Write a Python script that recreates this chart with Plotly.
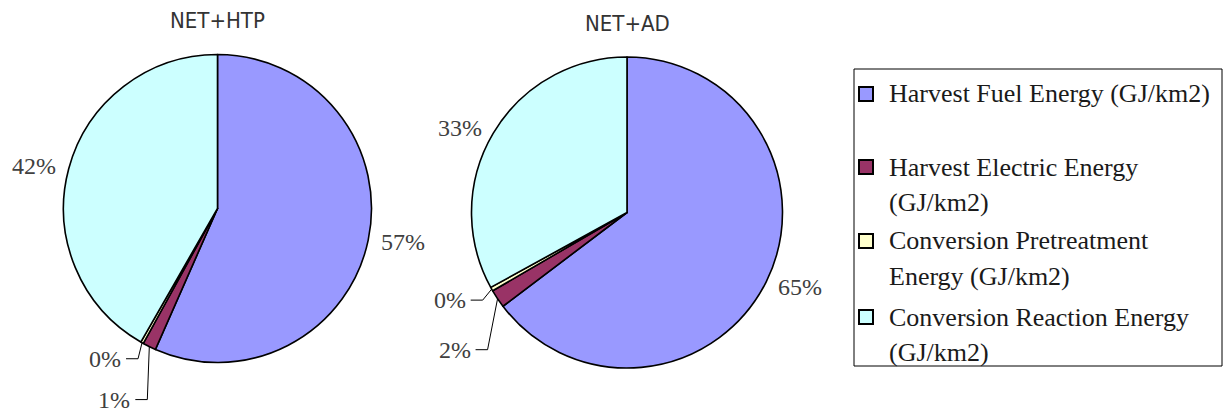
import math
import plotly.graph_objects as go

# ---- data -------------------------------------------------------------
categories = [
    "Harvest Fuel Energy (GJ/km2)",
    "Harvest Electric Energy (GJ/km2)",
    "Conversion Pretreatment Energy (GJ/km2)",
    "Conversion Reaction Energy (GJ/km2)",
]
legend_text = [
    "Harvest Fuel Energy (GJ/km2)",
    "Harvest Electric Energy<br>(GJ/km2)",
    "Conversion Pretreatment<br>Energy (GJ/km2)",
    "Conversion Reaction Energy<br>(GJ/km2)",
]
chart_titles = ["NET+HTP", "NET+AD"]
htp_share = [56.6, 1.4, 0.3, 41.7]
ad_share = [64.7, 1.9, 0.4, 33.0]
slice_colors = ["#9999FF", "#993366", "#FFFFCC", "#CCFFFF"]

# ---- layout -----------------------------------------------------------
W, H = 1224, 418
PIES = [dict(cx=217.5, cy=208.5, r=154), dict(cx=627, cy=212.5, r=155.5)]
# thin slices get an elbow leader line; offset (px) from slice rim to the text's right edge
LEADERS = [{2: (-19, 16), 1: (-17, 53)}, {2: (-24, 11), 1: (-25, 51)}]
LEGEND_BOX = (854, 69, 1222, 366)
LEGEND_ROWS = [94, 167, 241, 317]
LEGEND_LINE_GAP = 35
SERIF = "Liberation Serif"
TITLE_FONT = "DejaVu Sans Condensed, DejaVu Sans"


def paper(x, y):
    return x / W, 1 - y / H


def rim_point(p, frac, k=1.0):
    a = 2 * math.pi * frac
    return p["cx"] + k * p["r"] * math.sin(a), p["cy"] - k * p["r"] * math.cos(a)


fig = go.Figure()
annotations = []
shapes = []

for idx, (values, title) in enumerate(zip([htp_share, ad_share], chart_titles)):
    p = PIES[idx]
    x0, y1 = paper(p["cx"] - p["r"], p["cy"] - p["r"])
    x1, y0 = paper(p["cx"] + p["r"], p["cy"] + p["r"])
    fig.add_trace(go.Pie(
        labels=categories,
        values=values,
        sort=False,
        direction="clockwise",
        rotation=0,
        textinfo="none",
        hoverinfo="label+percent",
        marker=dict(colors=slice_colors, line=dict(color="#000000", width=1.6)),
        domain=dict(x=[x0, x1], y=[y0, y1]),
        showlegend=False,
        name=title,
    ))

    # chart title
    tx, ty = paper(p["cx"], p["cy"] - p["r"] - 34)
    annotations.append(dict(
        x=tx, y=ty, xref="paper", yref="paper", text=title, showarrow=False,
        xanchor="center", yanchor="middle",
        font=dict(family=TITLE_FONT, size=22, color="#333333"),
    ))

    total = sum(values)
    start = 0.0
    for i, v in enumerate(values):
        frac = v / total
        mid = start + frac / 2
        start += frac
        label = f"{round(frac * 100):.0f}%"
        if i in LEADERS[idx]:
            rx, ry = rim_point(p, mid)
            dx, dy = LEADERS[idx][i]
            lx, ly = rx + dx, ry + dy
            ex = lx + 15
            a = paper(rx, ry)
            b = paper(ex, ly)
            c = paper(lx + 3, ly)
            shapes.append(dict(
                type="path", xref="paper", yref="paper",
                path=f"M {a[0]},{a[1]} L {b[0]},{b[1]} L {c[0]},{c[1]}",
                line=dict(color="#000000", width=1),
            ))
            ax_, ay_ = paper(lx, ly)
            anchor = "right"
        else:
            sx, sy = rim_point(p, mid, 1.07)
            ax_, ay_ = paper(sx, sy)
            anchor = "left" if sx > p["cx"] else "right"
        annotations.append(dict(
            x=ax_, y=ay_, xref="paper", yref="paper", text=label, showarrow=False,
            xanchor=anchor, yanchor="middle",
            font=dict(family=SERIF, size=24, color="#404040"),
        ))

# legend box
bx0, by0 = paper(LEGEND_BOX[0], LEGEND_BOX[1])
bx1, by1 = paper(LEGEND_BOX[2], LEGEND_BOX[3])
shapes.append(dict(type="rect", xref="paper", yref="paper",
                   x0=bx0, x1=bx1, y0=by1, y1=by0,
                   line=dict(color="#000000", width=1), fillcolor="rgba(0,0,0,0)"))
for row_y, text, color in zip(LEGEND_ROWS, legend_text, slice_colors):
    sx0, sy0 = paper(859, row_y - 7)
    sx1, sy1 = paper(873, row_y + 7)
    shapes.append(dict(type="rect", xref="paper", yref="paper",
                       x0=sx0, x1=sx1, y0=sy1, y1=sy0,
                       line=dict(color="#000000", width=2), fillcolor=color))
    for k, line in enumerate(text.split("<br>")):
        lx, ly = paper(887, row_y + k * LEGEND_LINE_GAP)
        annotations.append(dict(
            x=lx, y=ly, xref="paper", yref="paper", text=line, showarrow=False,
            xanchor="left", yanchor="middle",
            font=dict(family=SERIF, size=26, color="#1a1a1a"),
        ))

fig.update_layout(
    width=W, height=H,
    margin=dict(l=0, r=0, t=0, b=0),
    paper_bgcolor="#ffffff",
    plot_bgcolor="#ffffff",
    annotations=annotations,
    shapes=shapes,
)

fig.write_html("out.html")
